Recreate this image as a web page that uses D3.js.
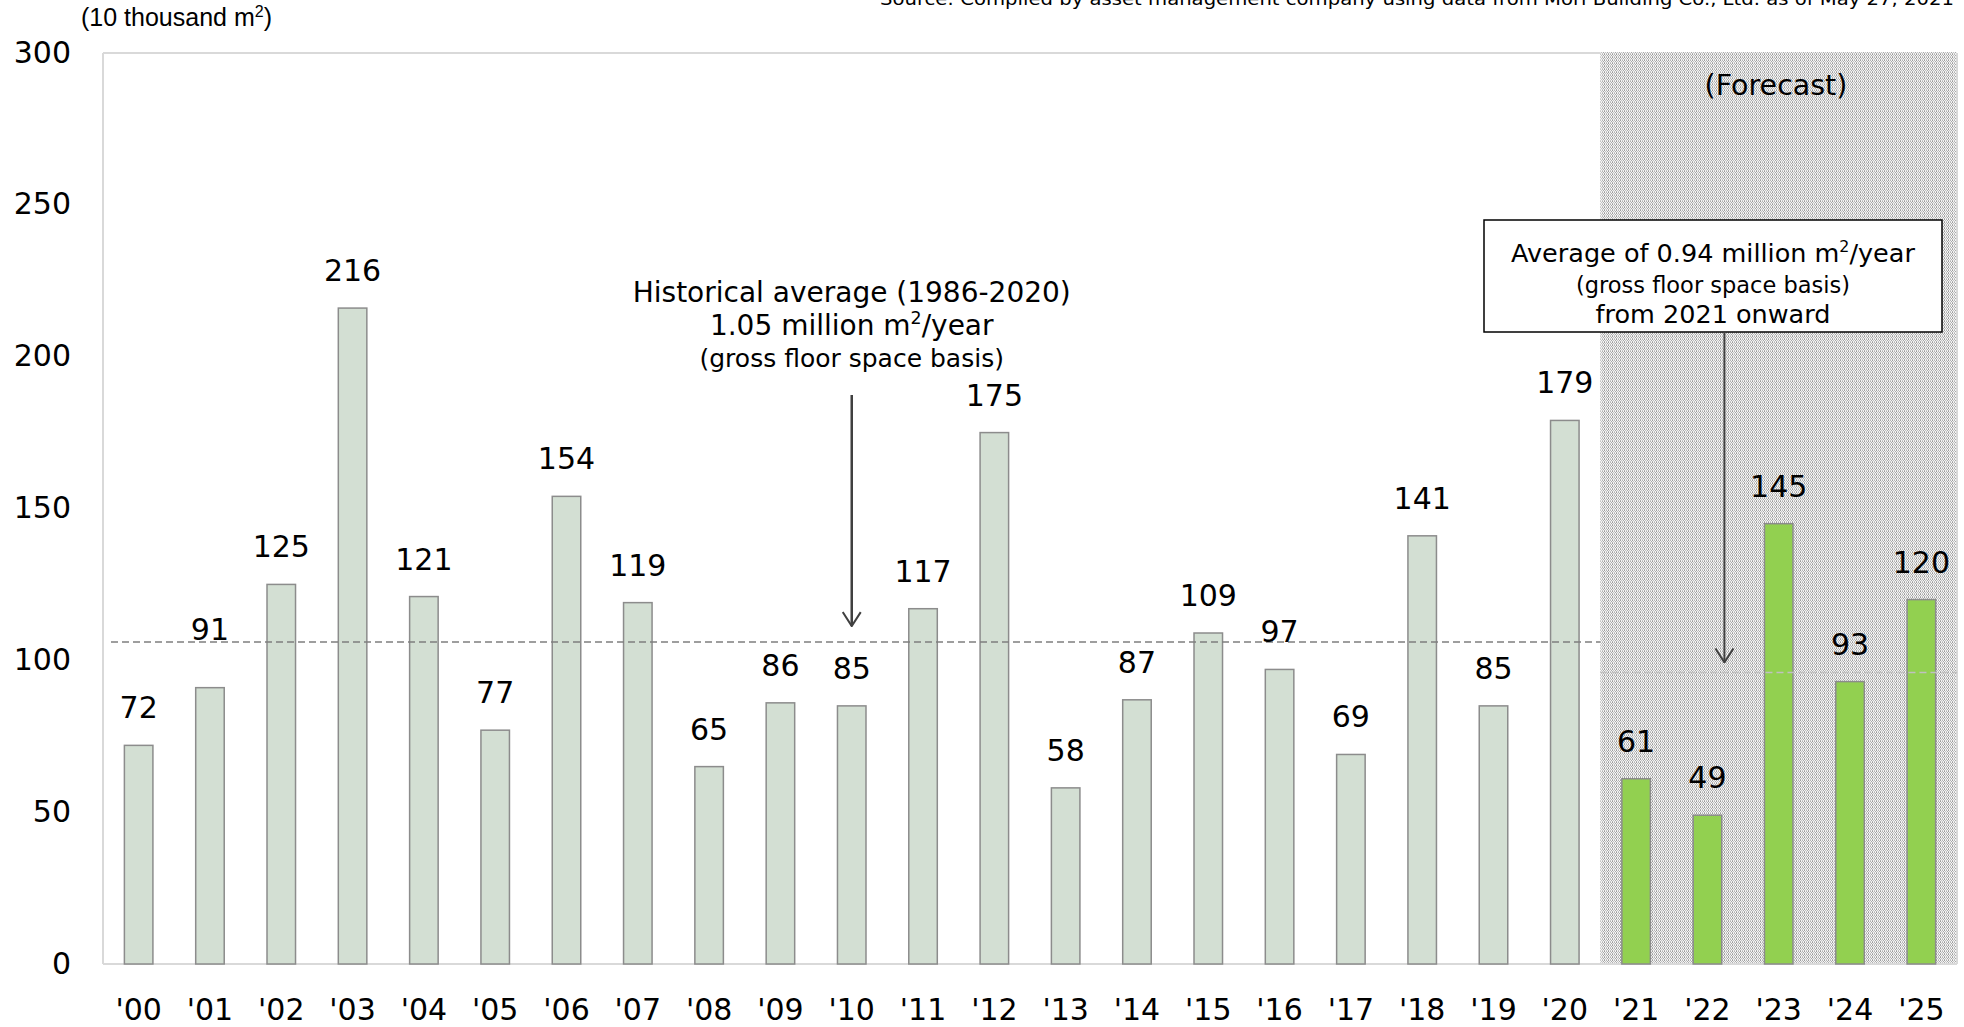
<!DOCTYPE html>
<html>
<head>
<meta charset="utf-8">
<script src="https://cdn.jsdelivr.net/npm/d3@7"></script>
<style>
  html, body { margin: 0; padding: 0; background: #fff; }
  svg { display: block; }
</style>
</head>
<body>
<svg id="chart"></svg>
<script>
/* ── Office supply chart · new supply in central Tokyo ─────────── */

const YEARS = ["'00","'01","'02","'03","'04","'05","'06","'07","'08","'09","'10","'11","'12",
               "'13","'14","'15","'16","'17","'18","'19","'20","'21","'22","'23","'24","'25"];
const SUPPLY = [72, 91, 125, 216, 121, 77, 154, 119, 65, 86, 85, 117, 175,
                58, 87, 109, 97, 69, 141, 85, 179, 61, 49, 145, 93, 120];
const FORECAST_YEARS = ["'21","'22","'23","'24","'25"];
const Y_TICKS = [0, 50, 100, 150, 200, 250, 300];
const HIST_AVG = 106;      // dashed line, 1986-2020 average
const FCST_AVG = 96;       // light dashed line, 2021 onward

const W = 1964, H = 1027;
const FONT = "'DejaVu Sans', Verdana, sans-serif";
const NUM_SIZE = 30;

const svg = d3.select("#chart").attr("width", W).attr("height", H);

// ── Scales ────────────────────────────────────────────────────────
const x = d3.scaleBand()
  .domain(YEARS)
  .range([103, 1957])
  .paddingInner(0.6)
  .paddingOuter(0.3);

const y = d3.scaleLinear()
  .domain([0, 300])
  .range([964, 53]);

const isForecast = d => FORECAST_YEARS.includes(d);
const fcstX0 = x(FORECAST_YEARS[0]) - x.step() * x.paddingInner() / 2;
const plotR = x.range()[1];

// ── Stipple pattern for the forecast zone ────────────────────────
const defs = svg.append("defs");
const pat = defs.append("pattern")
  .attr("id", "stipple")
  .attr("patternUnits", "userSpaceOnUse")
  .attr("width", 4).attr("height", 3);
pat.append("rect").attr("width", 4).attr("height", 3).attr("fill", "#f4f4f4");
[[0, 0, "#9c9c9c"], [2, 0, "#b4b4b4"], [1, 1, "#c2c2c2"], [3, 1, "#a8a8a8"],
 [0, 2, "#b0b0b0"], [2, 2, "#c6c6c6"]].forEach(([px, py, c]) => {
  pat.append("rect").attr("x", px).attr("y", py).attr("width", 1).attr("height", 1).attr("fill", c);
});

defs.append("marker")
  .attr("id", "openArrow")
  .attr("viewBox", "0 -10 16 20")
  .attr("refX", 15).attr("refY", 0)
  .attr("markerWidth", 16).attr("markerHeight", 20)
  .attr("markerUnits", "userSpaceOnUse")
  .attr("orient", "auto")
  .append("path")
    .attr("d", "M1,-9L15,0L1,9")
    .attr("fill", "none")
    .attr("stroke", "#404040")
    .attr("stroke-width", 2);

// ── Plot frame ───────────────────────────────────────────────────
svg.append("rect")
  .attr("x", fcstX0).attr("y", y(300) - 1)
  .attr("width", plotR - fcstX0).attr("height", y(0) - y(300) + 1)
  .attr("fill", "url(#stipple)");

const frame = svg.append("g")
  .attr("stroke", "#d9d9d9")
  .attr("stroke-width", 2);
frame.append("line").attr("x1", x.range()[0]).attr("x2", x.range()[0]).attr("y1", y(300)).attr("y2", y(0));
frame.append("line").attr("x1", x.range()[0]).attr("x2", fcstX0).attr("y1", y(300)).attr("y2", y(300));
frame.append("line").attr("x1", x.range()[0]).attr("x2", plotR).attr("y1", y(0)).attr("y2", y(0));
frame.append("line").attr("x1", plotR).attr("x2", plotR).attr("y1", y(300)).attr("y2", y(0));

// ── Bars ─────────────────────────────────────────────────────────
const rows = YEARS.map((yr, i) => ({ yr, v: SUPPLY[i] }));

svg.append("g")
  .selectAll("rect")
  .data(rows)
  .join("rect")
    .attr("x", d => x(d.yr))
    .attr("y", d => y(d.v))
    .attr("width", x.bandwidth())
    .attr("height", d => y(0) - y(d.v))
    .attr("fill", d => isForecast(d.yr) ? "#92d050" : "#d3dfd3")
    .attr("stroke", "#8c8c8c")
    .attr("stroke-width", 1.5);

// ── Average lines ────────────────────────────────────────────────
svg.append("line")
  .attr("x1", x.range()[0] + 8).attr("x2", fcstX0)
  .attr("y1", y(HIST_AVG)).attr("y2", y(HIST_AVG))
  .attr("stroke", "#7f7f7f")
  .attr("stroke-width", 1.5)
  .attr("stroke-dasharray", "7,4");

svg.append("line")
  .attr("x1", fcstX0).attr("x2", plotR)
  .attr("y1", y(FCST_AVG)).attr("y2", y(FCST_AVG))
  .attr("stroke", "#c0c0c0")
  .attr("stroke-width", 1.5)
  .attr("stroke-dasharray", "7,4");

// ── Value labels ─────────────────────────────────────────────────
// '01 label sits up on the average line in the original
const LIFT = { "'01": 21 };

svg.append("g")
  .selectAll("text")
  .data(rows)
  .join("text")
    .attr("x", d => x(d.yr) + x.bandwidth() / 2)
    .attr("y", d => y(d.v) - 27 - (LIFT[d.yr] || 0))
    .attr("text-anchor", "middle")
    .attr("font-family", FONT)
    .attr("font-size", NUM_SIZE)
    .attr("fill", "#000")
    .text(d => d.v);

// ── Axes ─────────────────────────────────────────────────────────
const yAxis = svg.append("g")
  .attr("transform", `translate(${x.range()[0]},0)`)
  .call(d3.axisLeft(y).tickValues(Y_TICKS).tickSize(0).tickPadding(32));
yAxis.select(".domain").remove();
yAxis.selectAll("text")
  .attr("font-family", FONT)
  .attr("font-size", NUM_SIZE)
  .attr("fill", "#000")
  .attr("dy", "0.3em");

const xAxis = svg.append("g")
  .attr("transform", `translate(0,${y(0)})`)
  .call(d3.axisBottom(x).tickSize(0));
xAxis.select(".domain").remove();
xAxis.selectAll("text")
  .attr("font-family", FONT)
  .attr("font-size", NUM_SIZE)
  .attr("fill", "#000")
  .attr("y", 56)
  .attr("dy", 0);

// ── Header texts ─────────────────────────────────────────────────
const unit = svg.append("text")
  .attr("x", 81).attr("y", 26)
  .attr("font-family", "'Liberation Sans', Arial, sans-serif")
  .attr("font-size", 25)
  .attr("fill", "#000")
  .text("(10 thousand m");
unit.append("tspan").attr("font-size", 16).attr("dy", -9).text("2");
unit.append("tspan").attr("dy", 9).text(")");

svg.append("text")
  .attr("x", 1954).attr("y", 5)
  .attr("text-anchor", "end")
  .attr("font-family", "'DejaVu Sans Condensed', 'DejaVu Sans', sans-serif")
  .attr("font-stretch", "condensed")
  .attr("font-size", 18)
  .attr("textLength", 1074)
  .attr("lengthAdjust", "spacingAndGlyphs")
  .attr("fill", "#000")
  .text("Source: Compiled by asset management company using data from Mori Building Co., Ltd. as of May 27, 2021");

// ── Annotations ──────────────────────────────────────────────────
function supLine(g, tx, ty, size, before, after) {
  const t = g.append("text")
    .attr("x", tx).attr("y", ty)
    .attr("text-anchor", "middle")
    .attr("font-family", FONT)
    .attr("font-size", size)
    .attr("fill", "#000")
    .text(before);
  t.append("tspan").attr("font-size", size * 0.62).attr("dy", -size * 0.38).text("2");
  t.append("tspan").attr("dy", size * 0.38).text(after);
}

const ann = svg.append("g");
const histX = x("'10") + x.bandwidth() / 2;

ann.append("text")
  .attr("x", histX).attr("y", 302)
  .attr("text-anchor", "middle")
  .attr("font-family", FONT).attr("font-size", 28)
  .text("Historical average (1986-2020)");
supLine(ann, histX, 335, 28, "1.05 million m", "/year");
ann.append("text")
  .attr("x", histX).attr("y", 367)
  .attr("text-anchor", "middle")
  .attr("font-family", FONT).attr("font-size", 25)
  .text("(gross floor space basis)");

ann.append("line")
  .attr("x1", histX).attr("x2", histX)
  .attr("y1", 395).attr("y2", y(HIST_AVG) - 16)
  .attr("stroke", "#404040").attr("stroke-width", 2.5)
  .attr("marker-end", "url(#openArrow)");

// forecast box
const boxX = 1484, boxY = 220, boxW = 458, boxH = 112;
const boxC = boxX + boxW / 2;
ann.append("rect")
  .attr("x", boxX).attr("y", boxY)
  .attr("width", boxW).attr("height", boxH)
  .attr("fill", "#fff")
  .attr("stroke", "#000")
  .attr("stroke-width", 1.5);
supLine(ann, boxC, 262, 25.5, "Average of 0.94 million m", "/year");
ann.append("text")
  .attr("x", boxC).attr("y", 293)
  .attr("text-anchor", "middle")
  .attr("font-family", FONT).attr("font-size", 22.5)
  .text("(gross floor space basis)");
ann.append("text")
  .attr("x", boxC).attr("y", 323)
  .attr("text-anchor", "middle")
  .attr("font-family", FONT).attr("font-size", 25.5)
  .text("from 2021 onward");

const fcstArrowX = x("'22") + x.bandwidth() / 2 + 17;
ann.append("line")
  .attr("x1", fcstArrowX).attr("x2", fcstArrowX)
  .attr("y1", boxY + boxH).attr("y2", y(FCST_AVG) - 10)
  .attr("stroke", "#404040").attr("stroke-width", 2)
  .attr("marker-end", "url(#openArrow)");

ann.append("text")
  .attr("x", 1776).attr("y", 95)
  .attr("text-anchor", "middle")
  .attr("font-family", FONT).attr("font-size", 28.5)
  .text("(Forecast)");
</script>
</body>
</html>
